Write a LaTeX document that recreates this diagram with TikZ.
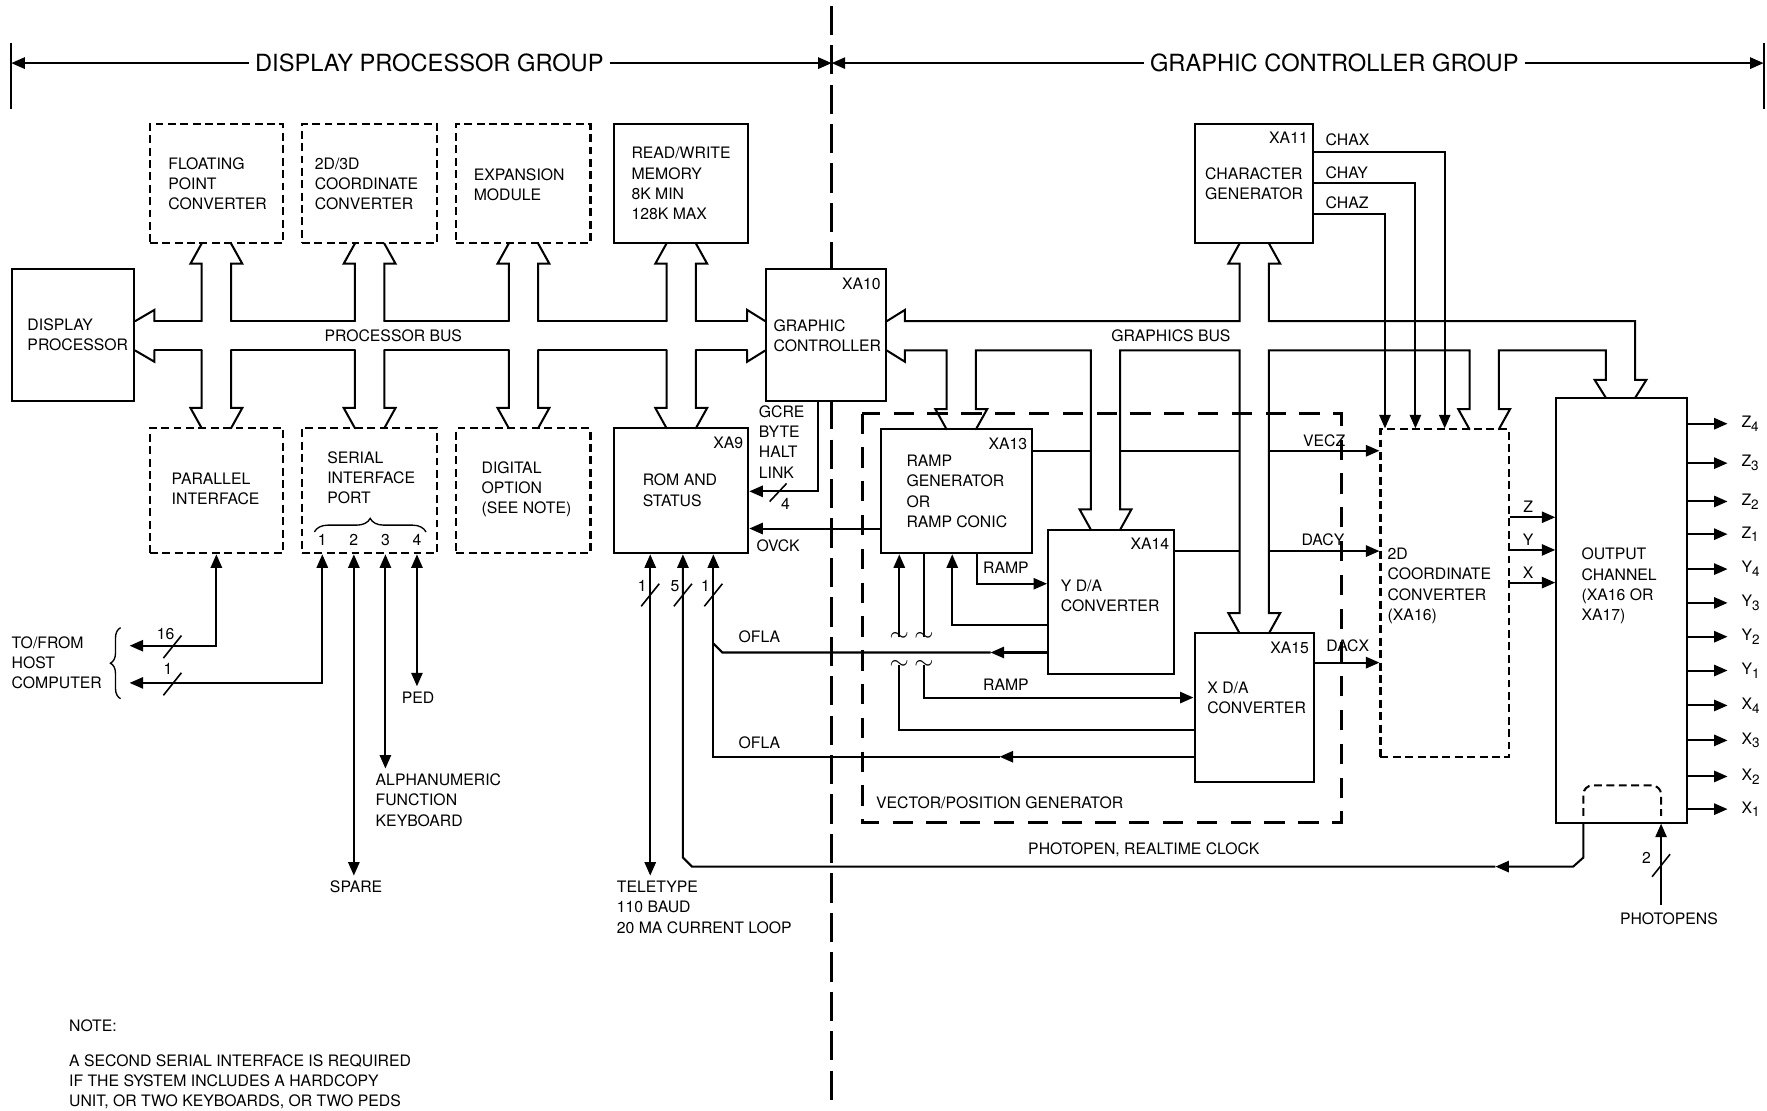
\documentclass[tikz,border=0pt]{standalone}
\usepackage{fontspec}
\setmainfont{TeX Gyre Heros}
\usetikzlibrary{arrows.meta, positioning, calc, fit, decorations.pathreplacing}

\begin{document}
\begin{tikzpicture}[
    x=0.5pt, y=-0.5pt,
    box/.style={draw, line width=0.9pt, inner sep=0pt},
    dbox/.style={box, dash pattern=on 3.5pt off 2pt},
    grp/.style={line width=1.3pt, dash pattern=on 9pt off 6pt},
    divider/.style={line width=1.3pt, dash pattern=on 13pt off 4.5pt},
    lbl/.style={font=\fontsize{7}{9}\selectfont, align=left, inner sep=0pt},
    hdr/.style={font=\fontsize{10.5}{12}\selectfont, inner xsep=2.5pt, inner ysep=0pt},
    tag/.style={lbl, anchor=north east, inner xsep=2.5pt, inner ysep=4pt},
    wire/.style={line width=0.9pt},
    arr/.style={wire, -{Triangle[length=6pt, width=5pt]}},
    arrs/.style={wire, {Triangle[length=6pt, width=5pt]}-{Triangle[length=6pt, width=5pt]}},
    bus/.style={line width=0.9pt, line cap=round, line join=miter},
    slash/.style={line width=0.7pt},
    tld/.style={font=\fontsize{11}{11}\selectfont, inner sep=0pt},
    brc/.style={line width=0.6pt, decorate, decoration={brace, amplitude=#1}}
  ]
  \useasboundingbox (0,0) rectangle (1568,985);

  % group headers
  \node[hdr] (hdp) at (381,56) {DISPLAY PROCESSOR GROUP};
  \node[hdr] (hgc) at (1184,56) {GRAPHIC CONTROLLER GROUP};
  \coordinate (eL) at (10,56);
  \coordinate (eM) at (738,56);
  \coordinate (eR) at (1565,56);
  \draw[wire] (10,38) -- (10,97);
  \draw[wire] (1565,38) -- (1565,97);
  \draw[arr] (hdp.west) -- (eL);
  \draw[arr] (hdp.east) -- (eM);
  \draw[arr] (hgc.west) -- (eM);
  \draw[arr] (hgc.east) -- (eR);
  \draw[divider] (738,5) -- (738,985);

  % boxes
  \node[dbox, fit={(133,110) (251,216)}] (fpc) {};
  \node[dbox, fit={(268,110) (388,216)}] (cc3) {};
  \node[dbox, fit={(405,110) (524,216)}] (exm) {};
  \node[box,  fit={(545,110) (664,216)}] (mem) {};
  \node[box,  fit={(11,239) (119,356)}] (dpu) {};
  \node[dbox, fit={(133,380) (251,491)}] (pif) {};
  \node[dbox, fit={(268,380) (388,491)}] (sif) {};
  \node[dbox, fit={(405,380) (524,491)}] (dgo) {};
  \node[box,  fit={(545,380) (664,491)}] (rom) {};
  \node[box, fill=white, fit={(680,239) (786,356)}] (gc) {};
  \node[box,  fit={(1060,110) (1165,216)}] (chg) {};
  \node[box,  fit={(782,381) (916,491)}] (ramp) {};
  \node[box,  fit={(930,470) (1042,598)}] (yda) {};
  \node[box,  fit={(1060,562) (1166,694)}] (xda) {};
  \node[dbox, fit={(1225,381) (1339,672)}] (cc2) {};
  \node[box,  fit={(1381,353) (1497,730)}] (och) {};
  \draw[grp] (765,367) rectangle (1190,730);

  % box texts
  \node[lbl, anchor=west] (fpct) at (149,163) {FLOATING\\POINT\\CONVERTER};
  \node[lbl, anchor=west] (cc3t) at (279,163) {2D/3D\\COORDINATE\\CONVERTER};
  \node[lbl, anchor=west] (exmt) at (420,164) {EXPANSION\\MODULE};
  \node[lbl, anchor=west] (memt) at (560,163) {READ/WRITE\\MEMORY\\8K MIN\\128K MAX};
  \node[lbl, anchor=west] (dput) at (24,297) {DISPLAY\\PROCESSOR};
  \node[lbl, anchor=west] (pift) at (152,434) {PARALLEL\\INTERFACE};
  \node[lbl, anchor=west] (sift) at (290,424) {SERIAL\\INTERFACE\\PORT};
  \node[lbl, anchor=west] (dgot) at (427,434) {DIGITAL\\OPTION\\(SEE NOTE)};
  \node[lbl, anchor=west] (romt) at (570,435) {ROM AND\\STATUS};
  \node[lbl, anchor=west] (gct) at (686,298) {GRAPHIC\\CONTROLLER};
  \node[lbl, anchor=west] (chgt) at (1069,163) {CHARACTER\\GENERATOR};
  \node[lbl, anchor=west] (rampt) at (804,436) {RAMP\\GENERATOR\\OR\\RAMP CONIC};
  \node[lbl, anchor=west] (ydat) at (941,529) {Y D/A\\CONVERTER};
  \node[lbl, anchor=west] (xdat) at (1071,619) {X D/A\\CONVERTER};
  \node[lbl, anchor=west] (cc2t) at (1231,520) {2D\\COORDINATE\\CONVERTER\\(XA16)};
  \node[lbl, anchor=west] (ocht) at (1403,520) {OUTPUT\\CHANNEL\\(XA16 OR\\XA17)};
  \node[lbl, anchor=west] (vpgt) at (777,712) {VECTOR/POSITION GENERATOR};
  \node[tag] (romx) at (rom.north east) {XA9};
  \node[tag] (gcx) at (gc.north east) {XA10};
  \node[tag] (chgx) at (chg.north east) {XA11};
  \node[tag] (rampx) at (ramp.north east) {XA13};
  \node[tag] (ydax) at (yda.north east) {XA14};
  \node[tag] (xdax) at (xda.north east) {XA15};

  % processor bus
  \foreach \c in {192,328,464.5,604.5} {
    \draw[bus] (\c-13,285) -- (\c-13,234) -- (\c-23,234) -- (\c-13,216)
               (\c+13,216) -- (\c+23,234) -- (\c+13,234) -- (\c+13,285);
    \draw[bus] (\c-13,311) -- (\c-13,362) -- (\c-23,362) -- (\c-13,380)
               (\c+13,380) -- (\c+23,362) -- (\c+13,362) -- (\c+13,311);
  }
  \foreach \a/\b in {137/179, 205/315, 341/451.5, 477.5/591.5, 617.5/663}
    \draw[bus] (\a,285) -- (\b,285) (\a,311) -- (\b,311);
  \draw[bus] (dpu.east |- 0,285) -- (137,275) -- (137,285)
             (dpu.east |- 0,311) -- (137,321) -- (137,311);
  \draw[bus] (gc.west |- 0,285) -- (663,275) -- (663,285)
             (gc.west |- 0,311) -- (663,321) -- (663,311);
  \node[lbl] (pbus) at (349,298) {PROCESSOR BUS};

  % graphics bus
  \draw[bus] (gc.east |- 0,285) -- (803,275) -- (803,285) -- (1100,285) -- (1100,234) -- (1090,234) -- (1100,216);
  \draw[bus] (1126,216) -- (1136,234) -- (1126,234) -- (1126,285) -- (1451,285) -- (1451,337) -- (1461,337) -- (1451,353);
  \draw[bus] (gc.east |- 0,311) -- (803,321) -- (803,311) -- (840,311) -- (840,363) -- (830,363) -- (840,381);
  \draw[bus] (866,381) -- (876,363) -- (866,363) -- (866,311) -- (968,311) -- (968,452) -- (958,452) -- (968,470);
  \draw[bus] (994,470) -- (1004,452) -- (994,452) -- (994,311) -- (1100,311) -- (1100,544) -- (1090,544) -- (1100,562);
  \draw[bus] (1126,562) -- (1136,544) -- (1126,544) -- (1126,311) -- (1304,311) -- (1304,363) -- (1294,363) -- (1304,381);
  \draw[bus] (1330,381) -- (1340,363) -- (1330,363) -- (1330,311) -- (1425,311) -- (1425,337) -- (1415,337) -- (1425,353);
  \node[lbl] (gbus) at (1039,298) {GRAPHICS BUS};

  % character generator outputs
  \draw[arr] (chg.east |- 0,135) -| (cc2.north -| 1282,0);
  \draw[arr] (chg.east |- 0,162) -| (cc2.north -| 1256,0);
  \draw[arr] (chg.east |- 0,190) -| (cc2.north -| 1229,0);
  \node[lbl, anchor=west] (chax) at (1176,124) {CHAX};
  \node[lbl, anchor=west] (chay) at (1176,153) {CHAY};
  \node[lbl, anchor=west] (chaz) at (1176,180) {CHAZ};

  % vector generator outputs
  \draw[wire] (ramp.east |- 0,400) -- (968,400) (994,400) -- (1100,400);
  \draw[arr] (1126,400) -- (cc2.west |- 0,400);
  \draw[wire] (yda.east |- 0,489) -- (1100,489);
  \draw[arr] (1126,489) -- (cc2.west |- 0,489);
  \draw[arr] (xda.east |- 0,588) -- (cc2.west |- 0,588);
  \node[lbl] (vecz) at (1175,391) {VECZ};
  \node[lbl] (dacy) at (1174,479) {DACY};
  \node[lbl] (dacx) at (1196,573) {DACX};
  \foreach \y/\s in {459/Z, 488/Y, 517/X} {
    \draw[arr] (cc2.east |- 0,\y) -- (och.west |- 0,\y);
    \node[lbl] (zyx\s) at (1356,\y-9) {\s};
  }

  % output channel lines
  \foreach \y/\s/\n in {376/Z/4, 411/Z/3, 445/Z/2, 474/Z/1, 505/Y/4, 535/Y/3,
                        565/Y/2, 595/Y/1, 626/X/4, 657/X/3, 689/X/2, 718/X/1} {
    \node[lbl, anchor=west] (out\s\n) at (1545,\y)
      {\s\raisebox{-0.45ex}{\fontsize{6}{6}\selectfont\n}};
    \draw[arr] (och.east |- 0,\y) -- ([xshift=-6pt]out\s\n.west);
  }
  \draw[wire, dash pattern=on 3.5pt off 2pt, rounded corners=4pt]
    (1405,724) -- (1405,697) -- (1474,697) -- (1474,724);
  \node[lbl] (pps) at (1481,815) {PHOTOPENS};
  \draw[arr] (1474,803) -- (och.south -| 1474,0);
  \draw[slash] (1466,778) -- (1482,758);
  \node[lbl] (n2) at (1461,761) {2};

  % graphic controller to ROM
  \draw[arr] (gc.south -| 726,0) |- (rom.east |- 0,436);
  \draw[slash] (683,445) -- (698,429);
  \node[lbl] (n4) at (697,447) {4};
  \node[lbl, anchor=west] (gcre) at (673,392) {GCRE\\BYTE\\HALT\\LINK};
  \draw[arr] (ramp.west |- 0,469) -- (rom.east |- 0,469);
  \node[lbl, anchor=west] (ovck) at (671,484) {OVCK};

  % ramp signals
  \draw[arr] (ramp.south -| 867,0) |- (yda.west |- 0,518);
  \node[lbl, anchor=west] (rmp1) at (872,504) {RAMP};
  \draw[arr] (yda.west |- 0,555) -| (ramp.south -| 845,0);
  \node[tld] (t1) at (798,565) {$\sim$};
  \node[tld] (t2) at (820,565) {$\sim$};
  \node[tld] (t3) at (798,590) {$\sim$};
  \node[tld] (t4) at (820,590) {$\sim$};
  \draw[arr] (t1.center) -- (ramp.south -| t1);
  \draw[wire] (ramp.south -| t2) -- (t2.center);
  \draw[wire] (xda.west |- 0,648) -| (t3.center);
  \draw[arr] (t4.center) |- (xda.west |- 0,619);
  \node[lbl, anchor=west] (rmp2) at (872,608) {RAMP};

  % overflow lines
  \draw[arr] (yda.west |- 0,579) -- (879,579);
  \draw[wire] (879,579) -- (641,579) -- (633,571);
  \draw[arr] (xda.west |- 0,671.5) -- (887,671.5);
  \draw[arr] (887,671.5) -- (633,671.5) -- (rom.south -| 633,0);
  \node[lbl, anchor=west] (ofla1) at (655,565) {OFLA};
  \node[lbl, anchor=west] (ofla2) at (655,659) {OFLA};

  % photopen, realtime clock
  \draw[arr] (och.south -| 1405,0) -- (1405,761) -- (1396,769) -- (1327,769);
  \draw[arr] (1327,769) -- (614,769) -- (606,761) -- (rom.south -| 606,0);
  \node[lbl] (ppl) at (1015,754) {PHOTOPEN, REALTIME CLOCK};

  % teletype
  \draw[arrs] (rom.south -| 577,0) -- (577,777);
  \foreach \x/\n [count=\i] in {577/1, 606/5, 633/1} {
    \draw[slash] (\x-8,538) -- (\x+8,518);
    \node[lbl] (w\i) at (\x-7,520) {\n};
  }
  \node[lbl, anchor=west] (tty) at (547,805) {TELETYPE\\110 BAUD\\20 MA CURRENT LOOP};

  % serial and parallel ports
  \foreach \x/\n in {286/1, 314/2, 342/3, 370/4}
    \node[lbl] (sp\n) at (\x,479) {\n};
  \draw[brc=6pt] (279,472) -- (378,472);
  \node[lbl, anchor=west] (host) at (10,588) {TO/FROM\\HOST\\COMPUTER};
  \draw[brc=4.5pt] (107,620) -- (107,557);
  \draw[arrs] (pif.south) |- (115,573);
  \draw[arrs] (sif.south -| sp1) |- (115,606);
  \draw[slash] (145,584) -- (161,564);
  \node[lbl] (n16) at (147,563) {16};
  \draw[slash] (145,617) -- (161,597);
  \node[lbl] (n1) at (149,594) {1};
  \draw[arrs] (sif.south -| sp2) -- (314,777);
  \draw[arrs] (sif.south -| sp3) -- (342,682);
  \draw[arrs] (sif.south -| sp4) -- (370,609);
  \node[lbl] (spare) at (316,787) {SPARE};
  \node[lbl, anchor=west] (kbd) at (333,710) {ALPHANUMERIC\\FUNCTION\\KEYBOARD};
  \node[lbl] (ped) at (371,619) {PED};

  % note
  \node[lbl, anchor=west] (note) at (61,910) {NOTE:};
  \node[lbl, anchor=west] (notetx) at (61,960)
    {A SECOND SERIAL INTERFACE IS REQUIRED\\IF THE SYSTEM INCLUDES A HARDCOPY\\UNIT, OR TWO KEYBOARDS, OR TWO PEDS};
\end{tikzpicture}
\end{document}
